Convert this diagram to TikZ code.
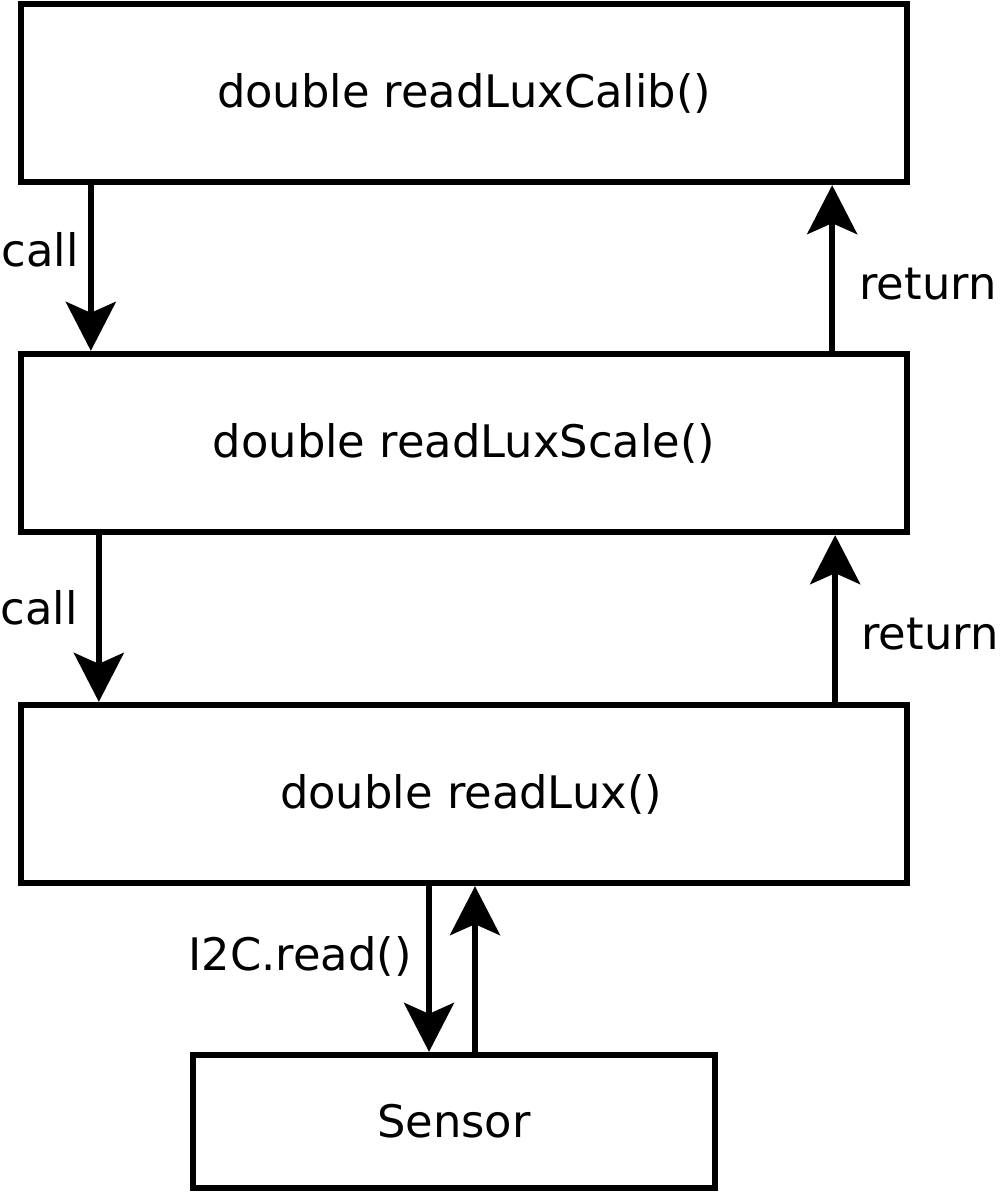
\documentclass[tikz,border=0pt]{standalone}
\usepackage{fontspec}
\setmainfont{DejaVu Sans}
\usetikzlibrary{arrows.meta}
\tikzset{myBox/.style={draw=black, line width=3.6pt, minimum width=886*0.02cm, minimum height=178*0.02cm, inner sep=0pt}}
\tikzset{myArrow/.style={line width=3.1pt, -{Stealth[length=49*0.02cm, width=50*0.02cm, inset=11*0.02cm]}}}
\tikzset{myLabel/.style={inner sep=0pt}}

\begin{document}
\begin{tikzpicture}[x=0.02cm,y=-0.02cm, font=\fontsize{25.5}{30}\selectfont]
	\useasboundingbox (0,0) rectangle (1000,1193);
	\node[myBox] (calib) at (464,93) {double readLuxCalib()};
	\node[myBox] (scale) at (464,443) {double readLuxScale()};
	\node[myBox] (lux) at (464,794) {\hspace*{8pt}double readLux()};
	\node[myBox, minimum width=522*0.02cm, minimum height=133*0.02cm] (sensor) at (454,1121.5) {Sensor};

	% calib <-> scale
	\draw[myArrow]([xshift=73*0.02cm]calib.south west) -- ([xshift=73*0.02cm]scale.north west);
	\draw[myArrow]([xshift=-78*0.02cm]scale.north east) -- ([xshift=-78*0.02cm]calib.south east);
	\node[myLabel] (call1) at (40,250) {call};
	\node[myLabel] (ret1) at (928,284) {return};

	% scale <-> lux
	\draw[myArrow]([xshift=81*0.02cm]scale.south west) -- ([xshift=81*0.02cm]lux.north west);
	\draw[myArrow]([xshift=-75*0.02cm]lux.north east) -- ([xshift=-75*0.02cm]scale.south east);
	\node[myLabel] (call2) at (39,608) {call};
	\node[myLabel] (ret2) at (930,634) {return};

	% lux <-> sensor
	\draw[myArrow]([xshift=-35*0.02cm]lux.south) -- ([xshift=-25*0.02cm]sensor.north);
	\draw[myArrow]([xshift=21*0.02cm]sensor.north) -- ([xshift=11*0.02cm]lux.south);
	\node[myLabel] (i2c) at (300,956) {I2C.read()};
\end{tikzpicture}
\end{document}
